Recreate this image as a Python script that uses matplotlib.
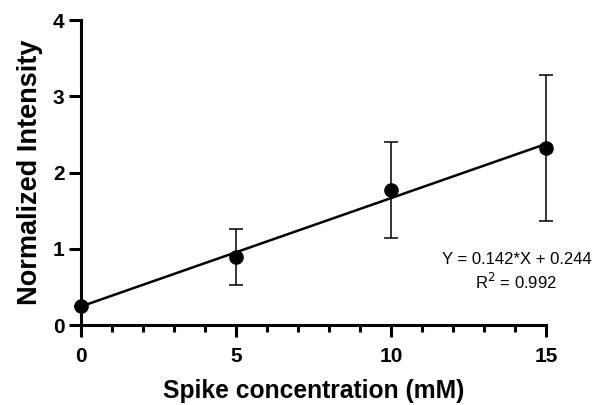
import matplotlib
matplotlib.use("Agg")
import matplotlib.pyplot as plt
import numpy as np

plt.rcParams['font.family'] = ['Liberation Sans', 'DejaVu Sans']

conc = [0, 5, 10, 15]
intensity = [0.25, 0.89, 1.77, 2.32]
err = [0.0, 0.365, 0.625, 0.96]
slope = 0.142
intercept = 0.244
r2 = 0.992
xticks = [0, 5, 10, 15]
yticks = [0, 1, 2, 3, 4]

fig = plt.figure(figsize=(5.92, 4.05), dpi=100)
ax = fig.add_axes([0.137, 0.1975, 0.785, 0.7531])

xf = np.array([conc[0], conc[-1]])
ax.plot(xf, slope * xf + intercept, color='black', lw=1.8, clip_on=False, zorder=2)
ax.errorbar(conc, intensity, yerr=err, fmt='o', color='black', ms=9.5,
            elinewidth=1.1, capsize=5, capthick=1.1, clip_on=False, zorder=3)

ax.set_xlim(0, 15)
ax.set_ylim(0, 4)
ax.set_xticks(xticks)
ax.set_xticks(np.arange(0, 16, 1), minor=True)
ax.set_yticks(yticks)
for s in ['top', 'right']:
    ax.spines[s].set_visible(False)
for s in ['left', 'bottom']:
    ax.spines[s].set_linewidth(2.2)
ax.tick_params(axis='both', which='major', width=2.2, labelsize=15, direction='out')
ax.tick_params(axis='x', which='major', length=8.5, pad=7)
ax.tick_params(axis='y', which='major', length=9, pad=3)
ax.tick_params(axis='x', which='minor', length=5, width=2.2)
ax.tick_params(axis='y', which='minor', length=0)
for lab in ax.get_xticklabels() + ax.get_yticklabels():
    lab.set_fontweight('bold')

ax.set_xlabel('Spike concentration (mM)', fontsize=17.7, fontweight='bold', labelpad=10)
ax.set_ylabel('Normalized Intensity', fontsize=19.5, fontweight='bold', labelpad=7)

ax.text(14.05, 0.7, f'Y = {slope}*X + {intercept}\nR$^2$ = {r2}', ha='center', va='center',
        fontsize=12, linespacing=1.3)

fig.savefig('out.png', dpi=100)
